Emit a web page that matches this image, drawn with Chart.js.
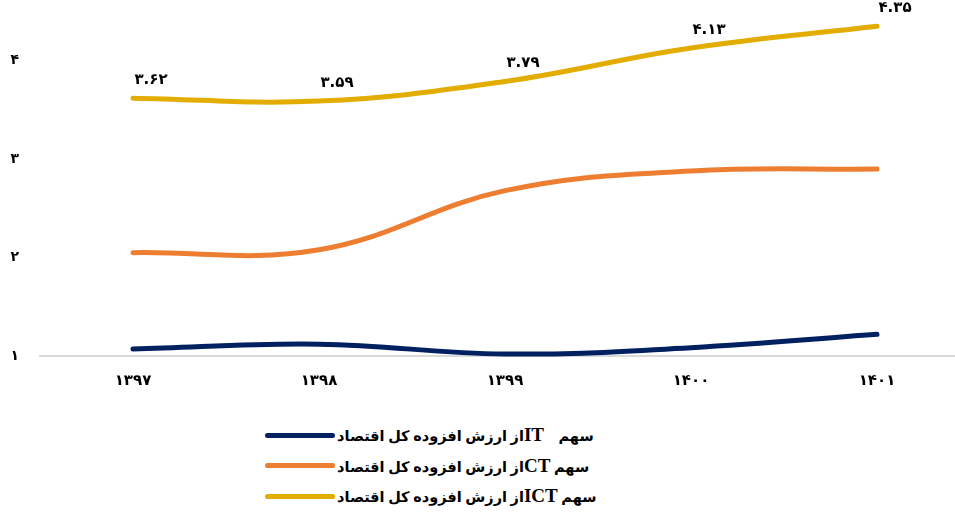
<!DOCTYPE html>
<html>
<head>
<meta charset="utf-8">
<script src="https://cdn.jsdelivr.net/npm/chart.js@4.4.0/dist/chart.umd.min.js"></script>
<style>
  html, body { margin: 0; padding: 0; background: #fff; overflow: hidden; width: 955px; height: 512px; }
  .chart-wrap { position: absolute; left: 0; top: 0; width: 970px; height: 402px; }
  .legend { position: absolute; left: 265px; top: 420px; font-family: "Liberation Serif", "DejaVu Sans", serif; font-weight: bold; }
  .legend-row { display: flex; align-items: center; height: 30.5px; }
  .legend-line { width: 70px; height: 5px; border-radius: 3px; margin-right: 2px; }
  .legend-text { direction: rtl; font-size: 14.5px; color: #000; white-space: pre; }
  .legend-text b { font-family: "Liberation Serif", serif; font-size: 19px; }
</style>
</head>
<body>
<div class="chart-wrap"><canvas id="chart"></canvas></div>
<div class="legend" id="legend"></div>
<script>
// years (Persian calendar)
const categories = ['۱۳۹۷', '۱۳۹۸', '۱۳۹۹', '۱۴۰۰', '۱۴۰۱'];

// share of value added in whole economy
const itValues = [1.07, 1.12, 1.02, 1.085, 1.22];
const ctValues = [2.05, 2.08, 2.68, 2.88, 2.90];
const ictValues = [3.62, 3.59, 3.79, 4.13, 4.35];

const seriesNames = ['IT', 'CT', 'ICT'];
const seriesGaps = ['   ', '', ''];
const seriesColors = ['#002060', '#ED7D31', '#E3AD00'];

const yTicks = [1, 2, 3, 4];

function toPersian(str) {
  return String(str).replace(/[0-9]/g, d => '۰۱۲۳۴۵۶۷۸۹'[d]);
}

// data labels for the ICT series only
const ictLabels = {
  id: 'ictLabels',
  afterDatasetsDraw(chart) {
    const ctx = chart.ctx;
    const meta = chart.getDatasetMeta(2);
    ctx.save();
    ctx.font = 'bold 15px "DejaVu Sans"';
    ctx.fillStyle = '#000';
    ctx.textAlign = 'center';
    ctx.textBaseline = 'middle';
    meta.data.forEach((pt, i) => {
      ctx.fillText(toPersian(ictValues[i].toFixed(2)), pt.x + 18, pt.y - 18);
    });
    ctx.restore();
  }
};

const allValues = [itValues, ctValues, ictValues];

const ctx = document.getElementById('chart').getContext('2d');
new Chart(ctx, {
  type: 'line',
  data: {
    labels: categories,
    datasets: allValues.map((vals, i) => ({
      label: seriesNames[i],
      data: vals,
      borderColor: seriesColors[i],
      backgroundColor: seriesColors[i],
      borderWidth: 5,
      borderCapStyle: 'round',
      tension: 0.4,
      pointRadius: 0,
      clip: false
    }))
  },
  options: {
    responsive: true,
    maintainAspectRatio: false,
    animation: false,
    layout: { padding: { top: 13, left: 6, right: 0, bottom: 4 } },
    plugins: {
      legend: { display: false },
      tooltip: { enabled: false }
    },
    scales: {
      x: {
        offset: true,
        grid: { display: false },
        border: { color: '#d9d9d9', width: 2 },
        ticks: {
          font: { family: 'DejaVu Sans', size: 15, weight: 'bold' },
          color: '#000',
          padding: 8
        }
      },
      y: {
        min: 1,
        max: 4.4,
        afterBuildTicks: (axis) => { axis.ticks = yTicks.map(v => ({ value: v })); },
        afterFit: (axis) => { axis.width = 34; },
        grid: { display: false },
        border: { display: false },
        ticks: {
          font: { family: 'DejaVu Sans', size: 14, weight: 'bold' },
          color: '#000',
          padding: 13,
          callback: (v) => toPersian(v)
        }
      }
    }
  },
  plugins: [ictLabels]
});

// legend rows
const legend = document.getElementById('legend');
seriesNames.forEach((name, i) => {
  const row = document.createElement('div');
  row.className = 'legend-row';
  row.innerHTML = '<span class="legend-line" style="background:' + seriesColors[i] + '"></span>' +
    '<span class="legend-text">سهم ' + seriesGaps[i] + '<b>' + name + '</b>از ارزش افزوده کل اقتصاد</span>';
  legend.appendChild(row);
});
</script>
</body>
</html>
